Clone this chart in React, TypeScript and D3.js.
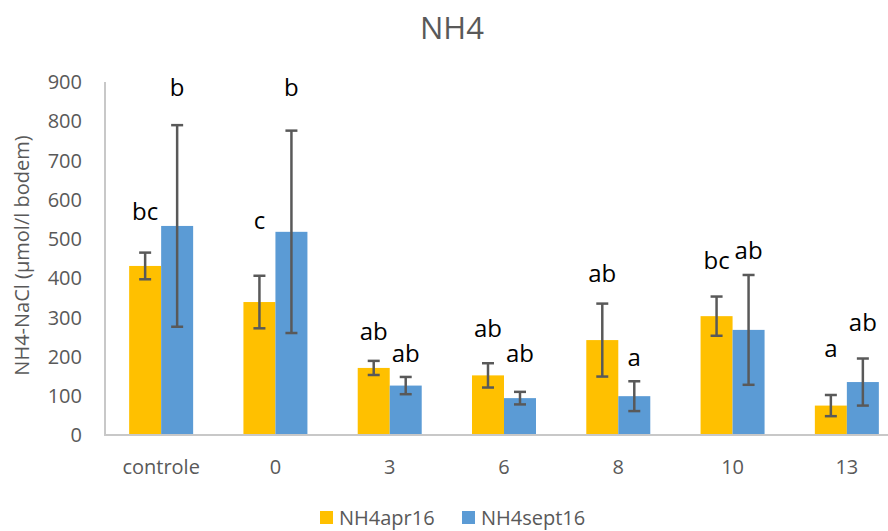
import React, { useRef, useEffect } from "react";
import * as d3 from "d3";

const categories = ["controle", "0", "3", "6", "8", "10", "13"];
const seriesNames = ["NH4apr16", "NH4sept16"];
const aprValues = [431, 339, 171, 152, 242, 303, 75];
const aprErrors = [34, 67, 18, 31, 93, 50, 27];
const septValues = [533, 518, 126, 94, 99, 268, 135];
const septErrors = [257, 258, 22, 16, 38, 140, 60];
// significance letters and the value height where each one sits
const aprLetters = ["bc", "c", "ab", "ab", "ab", "bc", "a"];
const aprLetterAt = [569, 548, 263, 273, 413, 446, 222];
const septLetters = ["b", "b", "ab", "ab", "a", "ab", "ab"];
const septLetterAt = [887, 887, 209, 209, 199, 472, 288];
const yTicks = [0, 100, 200, 300, 400, 500, 600, 700, 800, 900];

const colors = ["#FFC000", "#5B9BD5"];
const FONT = "'Open Sans', sans-serif";

const NH4Chart = () => {
  const svgRef = useRef<SVGSVGElement>(null);

  useEffect(() => {
    const width = 888, height = 531;
    const margin = { top: 82, left: 104, bottom: 96 };
    const plotRight = 904;

    const svg = d3.select(svgRef.current)
      .attr("width", width)
      .attr("height", height)
      .style("background", "#fff");

    svg.selectAll("*").remove();

    const x = d3.scaleBand()
      .domain(categories)
      .range([margin.left, plotRight])
      .paddingInner(0.44)
      .paddingOuter(0.22);

    const x1 = d3.scaleBand()
      .domain(seriesNames)
      .range([0, x.bandwidth()]);

    const y = d3.scaleLinear()
      .domain([0, 900])
      .range([height - margin.bottom, margin.top]);

    const series = [
      { name: seriesNames[0], values: aprValues, errors: aprErrors, letters: aprLetters, at: aprLetterAt },
      { name: seriesNames[1], values: septValues, errors: septErrors, letters: septLetters, at: septLetterAt }
    ];

    // title
    svg.append("text")
      .attr("x", 452)
      .attr("y", 39)
      .attr("text-anchor", "middle")
      .style("font-family", FONT)
      .style("font-size", "31px")
      .style("fill", "#595959")
      .text("NH4");

    // y tick labels
    svg.append("g")
      .selectAll("text")
      .data(yTicks)
      .enter()
      .append("text")
      .attr("x", 82)
      .attr("y", d => y(d))
      .attr("dy", "0.36em")
      .attr("text-anchor", "end")
      .style("font-family", FONT)
      .style("font-size", "20px")
      .style("fill", "#595959")
      .text(d => d);

    // y title
    svg.append("text")
      .attr("transform", `translate(29,${(margin.top + height - margin.bottom) / 2 - 3}) rotate(-90)`)
      .attr("text-anchor", "middle")
      .style("font-family", FONT)
      .style("font-size", "20px")
      .style("fill", "#595959")
      .text("NH4-NaCl (µmol/l bodem)");

    // bars
    series.forEach((s, si) => {
      const g = svg.append("g");
      g.selectAll("rect")
        .data(categories)
        .enter()
        .append("rect")
        .attr("x", c => x(c)! + x1(s.name)!)
        .attr("y", (c, i) => y(s.values[i]))
        .attr("width", x1.bandwidth())
        .attr("height", (c, i) => y(0) - y(s.values[i]))
        .attr("fill", colors[si]);
    });

    // axes lines
    svg.append("line")
      .attr("x1", margin.left + 1).attr("x2", margin.left + 1)
      .attr("y1", margin.top).attr("y2", y(0))
      .attr("stroke", "#c8c8c8").attr("stroke-width", 2);
    svg.append("line")
      .attr("x1", margin.left).attr("x2", plotRight)
      .attr("y1", y(0)).attr("y2", y(0))
      .attr("stroke", "#c8c8c8").attr("stroke-width", 2);

    // error bars
    series.forEach(s => {
      const g = svg.append("g")
        .attr("stroke", "#595959")
        .attr("stroke-width", 2.5)
        .attr("fill", "none");
      categories.forEach((c, i) => {
        const cx = x(c)! + x1(s.name)! + x1.bandwidth() / 2;
        const top = y(s.values[i] + s.errors[i]);
        const bot = y(s.values[i] - s.errors[i]);
        g.append("line").attr("x1", cx).attr("x2", cx).attr("y1", top).attr("y2", bot);
        g.append("line").attr("x1", cx - 6).attr("x2", cx + 6).attr("y1", top).attr("y2", top);
        g.append("line").attr("x1", cx - 6).attr("x2", cx + 6).attr("y1", bot).attr("y2", bot);
      });
    });

    // letters
    series.forEach(s => {
      svg.append("g")
        .selectAll("text")
        .data(categories)
        .enter()
        .append("text")
        .attr("x", c => x(c)! + x1(s.name)! + x1.bandwidth() / 2)
        .attr("y", (c, i) => y(s.at[i]))
        .attr("dy", "0.36em")
        .attr("text-anchor", "middle")
        .style("font-family", FONT)
        .style("font-size", "24px")
        .style("fill", "#000")
        .text((c, i) => s.letters[i]);
    });

    // x tick labels
    svg.append("g")
      .selectAll("text")
      .data(categories)
      .enter()
      .append("text")
      .attr("x", c => x(c)! + x.bandwidth() / 2)
      .attr("y", 474)
      .attr("text-anchor", "middle")
      .style("font-family", FONT)
      .style("font-size", "20px")
      .style("fill", "#595959")
      .text(c => c);

    // legend
    const legendX = [320, 462];
    series.forEach((s, si) => {
      svg.append("rect")
        .attr("x", legendX[si])
        .attr("y", 511)
        .attr("width", 13)
        .attr("height", 13)
        .attr("fill", colors[si]);
      svg.append("text")
        .attr("x", legendX[si] + 19)
        .attr("y", 525)
        .style("font-family", FONT)
        .style("font-size", "20px")
        .style("fill", "#595959")
        .text(s.name);
    });
  }, []);

  return (
    <div style={{ position: "absolute", left: 0, top: 0 }}>
      <svg ref={svgRef} style={{ display: "block" }}></svg>
    </div>
  );
};

export default function App() {
  return <NH4Chart />;
}
